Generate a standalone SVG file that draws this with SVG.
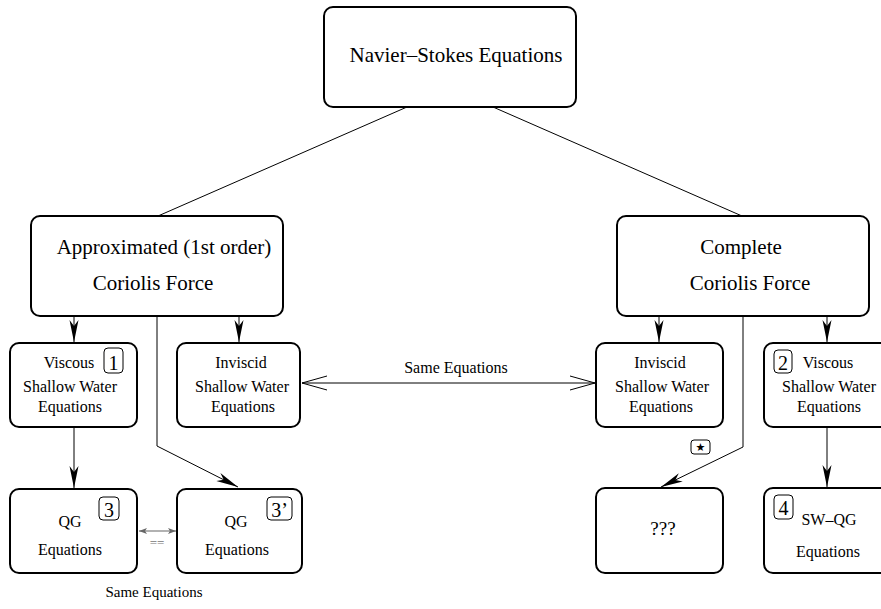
<svg xmlns="http://www.w3.org/2000/svg" width="881" height="609" viewBox="0 0 881 609">
<defs>
<style>
.box{fill:#fff;stroke:#000;stroke-width:2}
.badge{fill:none;stroke:#000;stroke-width:1}
text{font-family:'Liberation Serif','Tinos','DejaVu Serif',serif;fill:#000;text-anchor:middle}
.big{font-size:21px}
.med{font-size:16px}
.dig{font-size:20px}
.ln{fill:none;stroke:#000;stroke-width:1}
</style>
<marker id="fa" viewBox="-24 -6 26 12" refX="0" refY="0" markerWidth="26" markerHeight="12" markerUnits="userSpaceOnUse" orient="auto">
<path d="M0,0 L-22,-4.5 L-16,0 L-22,4.5 Z" fill="#000"/>
</marker>
<marker id="oa" viewBox="-27 -9 29 18" refX="0" refY="0" markerWidth="29" markerHeight="18" markerUnits="userSpaceOnUse" orient="auto">
<path d="M-25,-7 L0,0 L-25,7" fill="none" stroke="#000" stroke-width="1"/>
</marker>
<marker id="oas" viewBox="-27 -9 29 18" refX="0" refY="0" markerWidth="29" markerHeight="18" markerUnits="userSpaceOnUse" orient="auto-start-reverse">
<path d="M-25,-7 L0,0 L-25,7" fill="none" stroke="#000" stroke-width="1"/>
</marker>
<marker id="ga" viewBox="-9 -4 10 8" refX="0" refY="0" markerWidth="10" markerHeight="8" markerUnits="userSpaceOnUse" orient="auto-start-reverse">
<path d="M0,0 L-8,-3 L-6,0 L-8,3 Z" fill="#666"/>
</marker>
</defs>

<g id="connectors">
<line class="ln" x1="407" y1="107" x2="158" y2="216"/>
<line class="ln" x1="493" y1="107" x2="742" y2="216"/>
<line class="ln" x1="74" y1="317" x2="74" y2="342" marker-end="url(#fa)"/>
<line class="ln" x1="239" y1="317" x2="239" y2="342" marker-end="url(#fa)"/>
<polyline class="ln" points="157,317 157,446 238,487" marker-end="url(#fa)"/>
<line class="ln" x1="74" y1="428" x2="74" y2="488" marker-end="url(#fa)"/>
<line class="ln" x1="302" y1="383" x2="595" y2="383" marker-start="url(#oas)" marker-end="url(#oa)"/>
<line x1="139" y1="531" x2="176" y2="531" stroke="#666" stroke-width="1.2" marker-start="url(#ga)" marker-end="url(#ga)"/>
<line class="ln" x1="659" y1="317" x2="659" y2="342" marker-end="url(#fa)"/>
<line class="ln" x1="827" y1="317" x2="827" y2="342" marker-end="url(#fa)"/>
<polyline class="ln" points="743,317 743,447 661,487" marker-end="url(#fa)"/>
<line class="ln" x1="827" y1="428" x2="827" y2="487" marker-end="url(#fa)"/>
</g>

<g id="navier-stokes">
<rect class="box" x="324" y="7" width="252" height="100" rx="9"/>
<text class="big" x="456" y="62">Navier–Stokes Equations</text>
</g>

<g id="approximated">
<rect class="box" x="31" y="216" width="252" height="100" rx="9"/>
<text class="big" x="164" y="254">Approximated (1st order)</text>
<text class="big" x="153" y="290">Coriolis Force</text>
</g>

<g id="complete">
<rect class="box" x="617" y="216" width="252" height="100" rx="9"/>
<text class="big" x="741" y="254">Complete</text>
<text class="big" x="750" y="290">Coriolis Force</text>
</g>

<g id="viscous-1">
<rect class="box" x="10" y="343" width="127" height="84" rx="9"/>
<text class="med" x="69" y="368">Viscous</text>
<text class="med" x="70" y="392">Shallow Water</text>
<text class="med" x="70" y="412">Equations</text>
<rect class="badge" x="104" y="348" width="19" height="25" rx="4"/>
<text class="dig" x="113.5" y="370">1</text>
</g>

<g id="inviscid-left">
<rect class="box" x="177" y="343" width="123" height="84" rx="9"/>
<text class="med" x="241" y="368">Inviscid</text>
<text class="med" x="242" y="392">Shallow Water</text>
<text class="med" x="243" y="412">Equations</text>
</g>

<g id="inviscid-right">
<rect class="box" x="596" y="343" width="127" height="84" rx="9"/>
<text class="med" x="660" y="368">Inviscid</text>
<text class="med" x="662" y="392">Shallow Water</text>
<text class="med" x="661" y="412">Equations</text>
</g>

<g id="viscous-2">
<rect class="box" x="764" y="343" width="127" height="84" rx="9"/>
<text class="med" x="828" y="368">Viscous</text>
<text class="med" x="829" y="392">Shallow Water</text>
<text class="med" x="829" y="412">Equations</text>
<rect class="badge" x="774" y="350" width="18" height="23" rx="4"/>
<text class="dig" x="783" y="370">2</text>
</g>

<g id="qg-3">
<rect class="box" x="10" y="489" width="127" height="84" rx="9"/>
<text class="med" x="70" y="527">QG</text>
<text class="med" x="70" y="555">Equations</text>
<rect class="badge" x="99" y="497" width="20" height="23" rx="4"/>
<text class="dig" x="109" y="517">3</text>
</g>

<g id="qg-3prime">
<rect class="box" x="177" y="489" width="125" height="84" rx="9"/>
<text class="med" x="236" y="527">QG</text>
<text class="med" x="237" y="555">Equations</text>
<rect class="badge" x="267" y="497" width="25" height="23" rx="4"/>
<text class="dig" x="279.5" y="517">3’</text>
</g>

<g id="unknown">
<rect class="box" x="596" y="488" width="127" height="85" rx="9"/>
<text style="font-size:19px" x="663" y="535">???</text>
<rect class="badge" x="691" y="440" width="19" height="14" rx="3"/>
<text x="700.5" y="451" style="font-family:'DejaVu Sans',sans-serif;font-size:11px">★</text>
</g>

<g id="sw-qg">
<rect class="box" x="764" y="488" width="127" height="85" rx="9"/>
<text class="med" x="829" y="525">SW–QG</text>
<text class="med" x="828" y="557">Equations</text>
<rect class="badge" x="774" y="495" width="19" height="24" rx="4"/>
<text class="dig" x="783.5" y="515">4</text>
</g>

<g id="labels">
<text class="med" x="456" y="373">Same Equations</text>
<text style="font-size:13px;fill:#777" x="157" y="547">==</text>
<text style="font-size:15px" x="154" y="597">Same Equations</text>
</g>
</svg>
